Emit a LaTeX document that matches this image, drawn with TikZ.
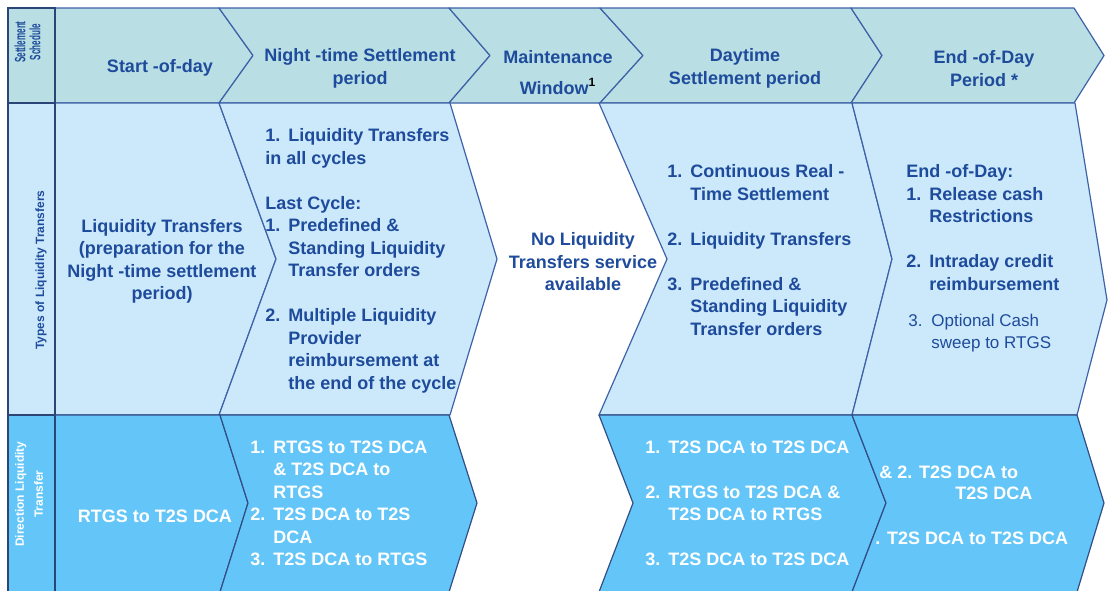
\documentclass[tikz,border=0pt]{standalone}
\usepackage{fontspec}
\setmainfont{Liberation Sans}
\usepackage{xcolor}
\definecolor{schedfill}{RGB}{185,223,228}
\definecolor{typefill}{RGB}{204,233,251}
\definecolor{dirfill}{RGB}{100,198,248}
\definecolor{edgeblue}{RGB}{62,98,168}
\definecolor{textblue}{RGB}{30,75,155}
\newcommand{\lnum}[2]{\makebox[11.5pt][l]{#1}#2}
\newcommand{\lind}{\hspace*{11.5pt}}

\begin{document}
\begin{tikzpicture}[x=0.5pt,y=-0.5pt,
  every node/.style={inner sep=0pt,text=textblue,font=\bfseries\fontsize{9}{11.25}\selectfont},
  schedcell/.style={fill=schedfill,draw=edgeblue,line width=0.6pt,line join=round},
  typecell/.style={fill=typefill,draw=edgeblue,line width=0.6pt,line join=round},
  dircell/.style={fill=dirfill,draw=edgeblue!80!black,line width=0.6pt,line join=round},
  sidecell/.style={draw=edgeblue!70!black,line width=0.9pt},
  head/.style={align=center},
  list/.style={align=left,anchor=west},
  dirtext/.style={text=white},
  side/.style={rotate=90,align=center,font=\bfseries\fontsize{6}{9.5}\selectfont}]
  \fill[white] (0,0) rectangle (1108,590);
  \useasboundingbox (0,0) rectangle (1108,590);
  % settlement schedule
  \draw[schedcell] (55,8) -- (219,8) -- (253,55.5) -- (219,103) -- (55,103) -- cycle;
  \draw[schedcell] (219,8) -- (449,8) -- (490,55.5) -- (449,103) -- (219,103) -- (253,55.5) -- cycle;
  \draw[schedcell] (449,8) -- (600,8) -- (643,55.5) -- (600,103) -- (449,103) -- (490,55.5) -- cycle;
  \draw[schedcell] (600,8) -- (851,8) -- (882,55.5) -- (851,103) -- (600,103) -- (643,55.5) -- cycle;
  \draw[schedcell] (851,8) -- (1074,8) -- (1104,55.5) -- (1074,103) -- (851,103) -- (882,55.5) -- cycle;
  % types of liquidity transfers
  \draw[typecell] (55,103) -- (219,103) -- (276,259) -- (219,415) -- (55,415) -- cycle;
  \draw[typecell] (219,103) -- (450,103) -- (497,259) -- (450,415) -- (219,415) -- (276,259) -- cycle;
  \draw[typecell] (599,103) -- (852,103) -- (892,259) -- (852,415) -- (599,415) -- (667,259) -- cycle;
  \draw[typecell] (852,103) -- (1075,103) -- (1107,300) -- (1077,415) -- (852,415) -- (892,259) -- cycle;
  % direction liquidity transfer
  \draw[dircell] (55,415) -- (220,415) -- (248,503) -- (220,592) -- (55,592) -- cycle;
  \draw[dircell] (220,415) -- (449,415) -- (477,503) -- (449,592) -- (220,592) -- (248,503) -- cycle;
  \draw[dircell] (599,415) -- (852,415) -- (886,503) -- (852,592) -- (599,592) -- (633,503) -- cycle;
  \draw[dircell] (852,415) -- (1077,415) -- (1104,503) -- (1077,592) -- (852,592) -- (886,503) -- cycle;
  % row labels
  \draw[sidecell,fill=schedfill] (8,8) rectangle (55,103);
  \draw[sidecell,fill=typefill] (8,103) rectangle (55,415);
  \draw[sidecell,fill=dirfill] (8,415) rectangle (55,592);
  \node[side,font=\bfseries\fontsize{7.5}{7.5}\selectfont] (schedlbl) at (27.5,42) {\scalebox{0.54}[1]{Settlement}\\\scalebox{0.54}[1]{Schedule}};
  \node[side] (typelbl) at (41,270) {Types of Liquidity Transfers};
  \node[side,dirtext] (dirlbl) at (29,494) {Direction Liquidity\\Transfer};

  \node[head] (sod) at (160,68) {Start -of-day};
  \node[head] (nts) at (360,68.5) {Night -time Settlement\\period};
  \node[head] (mw) at (558,72.5) {Maintenance\\[4pt]Window{\color{black}\textsuperscript{1}}};
  \node[head] (dsp) at (745,68.5) {Daytime\\Settlement period};
  \node[head] (eodp) at (984,68.5) {End -of-Day\\Period *};

  \node[head] (sodlt) at (162,261.5) {Liquidity Transfers\\(preparation for the\\Night -time settlement\\period)};
  \node[list] (ntslt) at (265,261) {\lnum{1.}{Liquidity Transfers}\\
    in all cycles\\[11.25pt]
    Last Cycle:\\
    \lnum{1.}{Predefined \&}\\
    \lind Standing Liquidity\\
    \lind Transfer orders\\[11.25pt]
    \lnum{2.}{Multiple Liquidity}\\
    \lind Provider\\
    \lind reimbursement at\\
    \lind the end of the cycle};
  \node[head] (mwlt) at (583,262) {No Liquidity\\Transfers service\\available};
  \node[list] (dsplt) at (667,250) {\lnum{1.}{Continuous Real -}\\
    \lind Time Settlement\\[11.25pt]
    \lnum{2.}{Liquidity Transfers}\\[11.25pt]
    \lnum{3.}{Predefined \&}\\
    \lind Standing Liquidity\\
    \lind Transfer orders};
  \node[list] (eodlt) at (906,227.5) {End -of-Day:\\
    \lnum{1.}{Release cash}\\
    \lind Restrictions\\[11.25pt]
    \lnum{2.}{Intraday credit}\\
    \lind reimbursement};
  \node[list,font=\fontsize{8.5}{11}\selectfont] (eodsweep) at (908,333) {\lnum{3.}{Optional Cash}\\
    \lind sweep to RTGS};

  \node[dirtext] (soddir) at (155,516) {RTGS to T2S DCA};
  \node[list,dirtext] (ntsdir) at (250,503.5) {\lnum{1.}{RTGS to T2S DCA}\\
    \lind\& T2S DCA to\\
    \lind RTGS\\
    \lnum{2.}{T2S DCA to T2S}\\
    \lind DCA\\
    \lnum{3.}{T2S DCA to RTGS}};
  \node[list,dirtext] (dspdir) at (645,503.5) {\lnum{1.}{T2S DCA to T2S DCA}\\[11.25pt]
    \lnum{2.}{RTGS to T2S DCA \&}\\
    \lind T2S DCA to RTGS\\[11.25pt]
    \lnum{3.}{T2S DCA to T2S DCA}};
  \node[list,dirtext] (eoddir1) at (879,472) {\& 2. T2S DCA to};
  \node[list,dirtext] (eoddir2) at (955,493) {T2S DCA};
  \node[list,dirtext] (eoddir3) at (875,538) {. T2S DCA to T2S DCA};
\end{tikzpicture}
\end{document}
